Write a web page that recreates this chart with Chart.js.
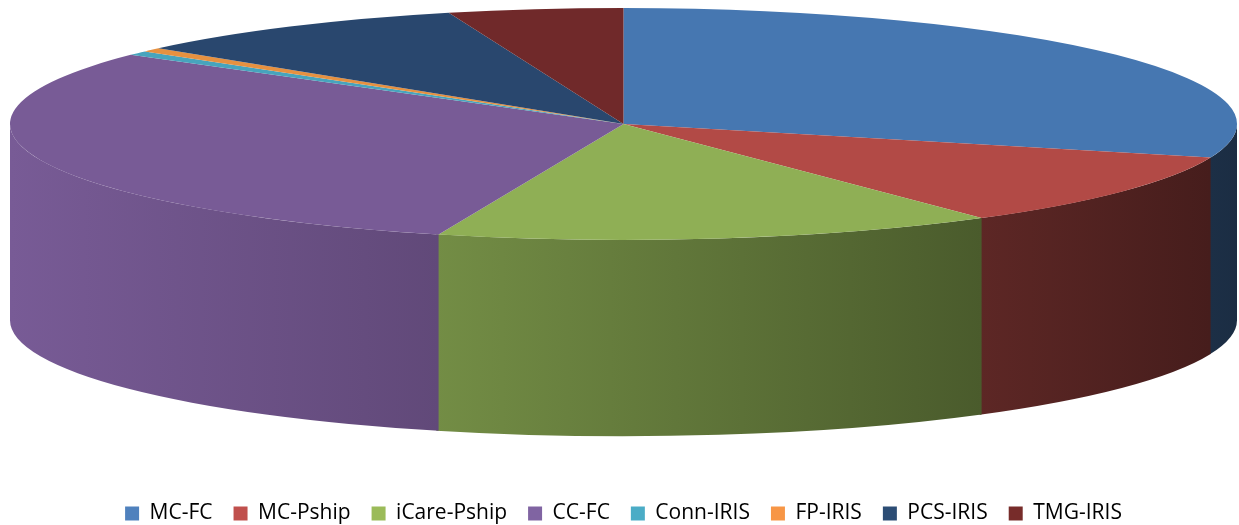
<!DOCTYPE html>
<html>
<head>
<meta charset="utf-8">
<script src="https://cdn.jsdelivr.net/npm/chart.js@4.4.1/dist/chart.umd.min.js"></script>
<style>
  html, body { margin: 0; padding: 0; background: #fff; }
  #wrap { width: 1239px; height: 525px; overflow: hidden; }
</style>
</head>
<body>
<div id="wrap"><canvas id="pieChart"></canvas></div>
<script>
const labels = ["MC-FC", "MC-Pship", "iCare-Pship", "CC-FC", "Conn-IRIS", "FP-IRIS", "PCS-IRIS", "TMG-IRIS"];
const values = [29.7, 10.4, 14.8, 30.3, 0.6, 0.55, 9.1, 4.6];

// top face colours (lit) and legend colours (flat)
const topColors = ["#4677b1", "#b24a46", "#8faf55", "#785b96", "#47a4bd", "#e69140", "#29476e", "#70292a"];
const legendColors = ["#4f81bd", "#c0504d", "#9bbb59", "#8064a2", "#4bacc6", "#f79646", "#2c4d75", "#772c2a"];

const tilt = 0.189;       // vertical squash of the top face
const depthRatio = 0.32;  // wall height relative to horizontal radius

function shade(hex, f) {
  const n = parseInt(hex.slice(1), 16);
  const r = Math.round(((n >> 16) & 255) * f);
  const g = Math.round(((n >> 8) & 255) * f);
  const b = Math.round((n & 255) * f);
  return "rgb(" + r + "," + g + "," + b + ")";
}

// walls get darker towards the right
function wallFactor(t) {
  return 1 - 0.62 * Math.pow(t, 1.1);
}

const pie3d = {
  id: "pie3d",
  beforeDatasetsDraw(chart) {
    const meta = chart.getDatasetMeta(0);
    const first = meta.data[0];
    const area = chart.chartArea;
    const R = first.outerRadius;
    const cx = first.x;
    const cy = first.y;
    const rx = (area.right - area.left) / 2;
    const ry = rx * tilt;
    const ctx = chart.ctx;

    ctx.save();
    ctx.translate((area.left + area.right) / 2, area.top + ry);
    ctx.scale(rx / R, ry / R);
    ctx.translate(-cx, -cy);

    const D = (rx * depthRatio) / (ry / R);

    meta.data.forEach((arc, i) => {
      // only the front half (angles 0..PI) shows its wall
      const a0 = Math.max(arc.startAngle, 0);
      const a1 = Math.min(arc.endAngle + 0.004, Math.PI);
      if (a1 <= a0) return;

      const xl = cx + R * Math.cos(a1);
      const xr = cx + R * Math.cos(a0);
      const tl = (xl - (cx - R)) / (2 * R);
      const tr = (xr - (cx - R)) / (2 * R);
      const grad = ctx.createLinearGradient(xl, 0, xr, 0);
      grad.addColorStop(0, shade(topColors[i], wallFactor(tl)));
      grad.addColorStop(1, shade(topColors[i], wallFactor(tr)));

      ctx.beginPath();
      ctx.arc(cx, cy, R, a0, a1);
      ctx.lineTo(cx + R * Math.cos(a1), cy + R * Math.sin(a1) + D);
      ctx.arc(cx, cy + D, R, a1, a0, true);
      ctx.closePath();
      ctx.fillStyle = grad;
      ctx.fill();
    });
  },
  afterDatasetsDraw(chart) {
    chart.ctx.restore();
  },
};

const ctx = document.getElementById("pieChart").getContext("2d");
const myChart = new Chart(ctx, {
  type: "pie",
  data: {
    labels: labels,
    datasets: [
      {
        data: values,
        backgroundColor: topColors,
        borderWidth: 0,
        clip: false,
      },
    ],
  },
  options: {
    responsive: true,
    maintainAspectRatio: false,
    animation: false,
    layout: {
      padding: { left: 10, right: 2, top: 8, bottom: -9 },
    },
    plugins: {
      tooltip: { enabled: false },
      legend: {
        position: "bottom",
        labels: {
          boxWidth: 14,
          boxHeight: 14,
          padding: 21,
          color: "#595959",
          font: { family: "'Open Sans'", size: 21 },
          generateLabels: function () {
            return labels.map((text, i) => ({
              text: text,
              fillStyle: legendColors[i],
              strokeStyle: legendColors[i],
              lineWidth: 0,
              hidden: false,
              index: i,
            }));
          },
        },
      },
    },
  },
  plugins: [pie3d],
});
</script>
</body>
</html>
